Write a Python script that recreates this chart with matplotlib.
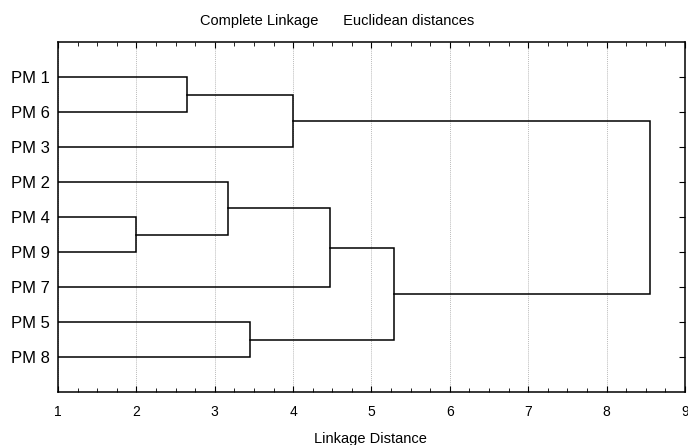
import matplotlib.pyplot as plt
from matplotlib.ticker import MultipleLocator

plt.rcParams["font.family"] = ["Liberation Sans", "DejaVu Sans"]

# leaf order top to bottom
leaf_labels = ["PM 1", "PM 6", "PM 3", "PM 2", "PM 4", "PM 9", "PM 7", "PM 5", "PM 8"]
# merges: (child a, child b, linkage distance); leaves are 0..8, new nodes 9..
merge_a = [0, 9, 4, 3, 12, 7, 13, 10]
merge_b = [1, 2, 5, 11, 6, 8, 14, 15]
merge_dist = [2.65, 4.0, 2.0, 3.17, 4.47, 3.45, 5.29, 8.56]
base_dist = 1.0

fig = plt.figure(figsize=(6.88, 4.45), dpi=100)
ax = fig.add_axes([0.0843, 0.119, 0.9113, 0.7866])

# node positions: y (row), x (distance)
node_y = [i + 1 for i in range(len(leaf_labels))]
node_x = [base_dist] * len(leaf_labels)

for a, b, d in zip(merge_a, merge_b, merge_dist):
    ya, yb = node_y[a], node_y[b]
    ax.plot([node_x[a], d, d, node_x[b]], [ya, ya, yb, yb],
            color="black", linewidth=1.1, solid_joinstyle="miter")
    node_y.append((ya + yb) / 2)
    node_x.append(d)

ax.set_xlim(1, 9)
ax.set_ylim(10, 0)
ax.xaxis.set_major_locator(MultipleLocator(1))
ax.xaxis.set_minor_locator(MultipleLocator(0.25))
ax.set_yticks(range(1, len(leaf_labels) + 1))
ax.set_yticklabels(leaf_labels, fontsize=12)
ax.tick_params(axis="x", which="both", direction="in", top=True, labelsize=10, pad=9)
ax.tick_params(axis="x", which="major", length=4)
ax.tick_params(axis="x", which="minor", length=3)
ax.tick_params(axis="y", direction="in", right=True, left=False, length=4, pad=6)
ax.grid(axis="x", which="major", color="#bbbbbb", linestyle=(0, (1, 1)), linewidth=0.7)
for s in ax.spines.values():
    s.set_linewidth(1.1)

fig.text(370 / 688, 1 - 439 / 445, "Linkage Distance",
         ha="center", va="center", fontsize=10.5)
fig.text(337 / 688, 1 - 21 / 445, "Complete Linkage      Euclidean distances",
         ha="center", va="center", fontsize=10.5)

fig.savefig("out.png", dpi=100)
